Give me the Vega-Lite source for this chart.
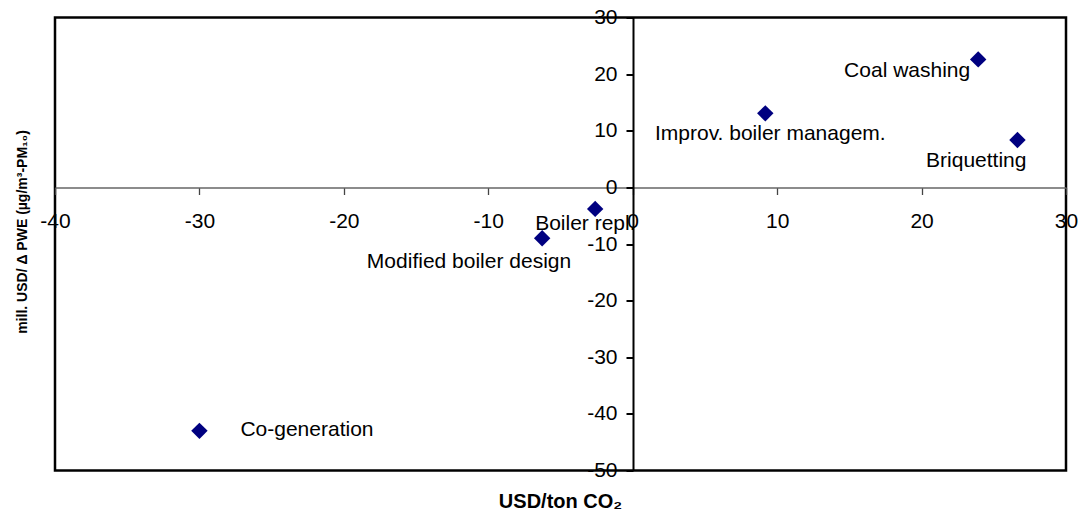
{
  "$schema": "https://vega.github.io/schema/vega-lite/v6.json",
  "width": 1011,
  "height": 453,
  "autosize": "none",
  "padding": {"left": 55, "top": 17.5, "right": 14, "bottom": 49.5},
  "background": "white",
  "config": {
    "font": "Liberation Sans",
    "view": {"stroke": "black", "strokeWidth": 2.5}
  },
  "data": {
    "values": [
      {"option": "Co-generation", "cost_co2": -30.0, "cost_pm": -43.0},
      {"option": "Modified boiler design", "cost_co2": -6.27, "cost_pm": -9.0},
      {"option": "Boiler repl.", "cost_co2": -2.6, "cost_pm": -3.8},
      {"option": "Improv. boiler managem.", "cost_co2": 9.18, "cost_pm": 13.07},
      {"option": "Coal washing", "cost_co2": 23.92, "cost_pm": 22.6},
      {"option": "Briquetting", "cost_co2": 26.64, "cost_pm": 8.36}
    ]
  },
  "encoding": {
    "x": {
      "field": "cost_co2",
      "type": "quantitative",
      "scale": {"domain": [-40, 30], "nice": false, "zero": false},
      "axis": {
        "orient": "bottom",
        "offset": -283,
        "values": [-40, -30, -20, -10, 0, 10, 20, 30],
        "labelExpr": "'' + datum.value",
        "grid": false,
        "title": "USD/ton CO₂",
        "titleFontSize": 20,
        "titleFontWeight": "bold",
        "titleColor": "black",
        "titleX": 505,
        "titleY": 320,
        "titleAlign": "center",
        "titleBaseline": "alphabetic",
        "domainColor": "#666666",
        "domainWidth": 1.3,
        "tickColor": "#444444",
        "tickWidth": 1.3,
        "tickSize": 7,
        "labelFontSize": 21,
        "labelColor": "black",
        "labelPadding": 16,
        "labelFlush": false,
        "labelOverlap": false,
        "labelBound": false
      }
    },
    "y": {
      "field": "cost_pm",
      "type": "quantitative",
      "scale": {"domain": [-50, 30], "nice": false, "zero": false},
      "axis": {
        "orient": "left",
        "offset": -578,
        "values": [-50, -40, -30, -20, -10, 0, 10, 20, 30],
        "labelExpr": "'' + datum.value",
        "grid": false,
        "title": "mill. USD/ Δ PWE (µg/m³-PM₁₀)",
        "titleFontSize": 14,
        "titleFontWeight": "bold",
        "titleColor": "black",
        "titleAngle": -90,
        "titleX": -607,
        "titleY": 214,
        "titleAlign": "center",
        "titleBaseline": "alphabetic",
        "domainColor": "black",
        "domainWidth": 2,
        "tickColor": "black",
        "tickWidth": 2,
        "tickSize": 7,
        "labelFontSize": 21,
        "labelColor": "black",
        "labelPadding": 9,
        "labelFlush": false,
        "labelOverlap": false,
        "labelBound": false
      }
    }
  },
  "layer": [
    {
      "mark": {"type": "point", "shape": "diamond", "filled": true, "color": "#000080", "opacity": 1, "size": 270}
    },
    {
      "transform": [{"filter": "datum.option === 'Co-generation'"}],
      "mark": {"type": "text", "align": "left", "baseline": "alphabetic", "dx": 41, "dy": 5, "fontSize": 21, "color": "black"},
      "encoding": {"text": {"field": "option"}}
    },
    {
      "transform": [{"filter": "datum.option === 'Modified boiler design'"}],
      "mark": {"type": "text", "align": "right", "baseline": "alphabetic", "dx": 29, "dy": 30, "fontSize": 21, "color": "black"},
      "encoding": {"text": {"field": "option"}}
    },
    {
      "transform": [{"filter": "datum.option === 'Boiler repl.'"}],
      "mark": {"type": "text", "align": "left", "baseline": "alphabetic", "dx": -60, "dy": 21, "fontSize": 21, "color": "black"},
      "encoding": {"text": {"field": "option"}}
    },
    {
      "transform": [{"filter": "datum.option === 'Improv. boiler managem.'"}],
      "mark": {"type": "text", "align": "center", "baseline": "alphabetic", "dx": 5, "dy": 27, "fontSize": 21, "color": "black"},
      "encoding": {"text": {"field": "option"}}
    },
    {
      "transform": [{"filter": "datum.option === 'Coal washing'"}],
      "mark": {"type": "text", "align": "right", "baseline": "alphabetic", "dx": -8, "dy": 18, "fontSize": 21, "color": "black"},
      "encoding": {"text": {"field": "option"}}
    },
    {
      "transform": [{"filter": "datum.option === 'Briquetting'"}],
      "mark": {"type": "text", "align": "right", "baseline": "alphabetic", "dx": 9, "dy": 27, "fontSize": 21, "color": "black"},
      "encoding": {"text": {"field": "option"}}
    }
  ]
}
